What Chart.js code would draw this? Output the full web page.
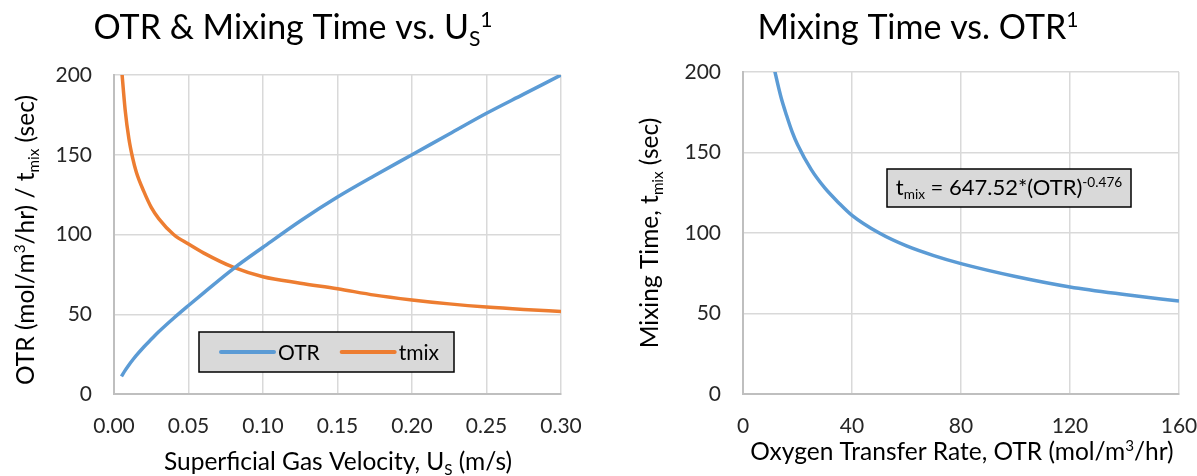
<!DOCTYPE html>
<html>
<head>
<meta charset="utf-8">
<script src="https://cdn.jsdelivr.net/npm/chart.js@4.4.1/dist/chart.umd.min.js"></script>
<style>
body{margin:0;background:#fff;width:1197px;height:476px;overflow:hidden;position:relative}
.box{position:absolute;top:0;height:476px}
#left{left:0;width:600px}
#right{left:600px;width:597px}
</style>
</head>
<body>
<div class="box" id="left"><canvas id="c1"></canvas></div>
<div class="box" id="right"><canvas id="c2"></canvas></div>
<script>
/* DATA - left chart (vs. superficial gas velocity) */
const usVel = [0.005,0.0075,0.01,0.0125,0.015,0.02,0.025,0.03,0.04,0.05,0.06,0.08,0.1,0.125,0.15,0.175,0.2,0.225,0.25,0.275,0.3]
const otrVals = [11,14.8,18.2,21.3,24.2,29.5,34.3,39,47.5,55.5,63.3,78.5,92,108.5,123.5,137,150,163,176,188,200]
const tmixVals = [205,178,160,148,139,127,117,110,100,94,88.5,79.5,73.5,69.5,66,62,59,56.5,54.5,53,51.8]

/* DATA - right chart (mixing time vs. OTR) */
const otrX = [11,12,14,16,18,20,25,30,35,40,50,60,70,80,100,120,140,160]
const tmixY = [206,198,184,173,163,155,139.5,128,119,111,100,92,86,81,73,66.5,61.8,57.7]

const xTicks1 = [0,0.05,0.1,0.15,0.2,0.25,0.3]
const xTicks2 = [0,40,80,120,160]
const yTicks = [0,50,100,150,200]

const BLUE = '#5B9BD5', ORANGE = '#ED7D31'
const FONT = 'Lato'
const GRID = '#D9D9D9'

/* rich text: segments with sub / sup */
function drawRich(ctx, segs, x, y, size, rot){
  ctx.save()
  ctx.translate(x, y)
  if(rot) ctx.rotate(rot)
  ctx.fillStyle = '#000'
  ctx.textBaseline = 'alphabetic'
  ctx.textAlign = 'left'
  let parts = segs.map(s=>{
    let fs = s.sub||s.sup ? size*0.62 : size
    ctx.font = fs+'px '+FONT
    return {t:s.t, fs, w:ctx.measureText(s.t).width, dy: s.sub ? size*0.2 : s.sup ? -size*0.36 : 0}
  })
  let total = parts.reduce((a,p)=>a+p.w,0)
  let cx = -total/2
  parts.forEach(p=>{
    ctx.font = p.fs+'px '+FONT
    ctx.fillText(p.t, cx, size*0.36 + p.dy)
    cx += p.w
  })
  ctx.restore()
}

const richText = {
  id:'richText',
  afterDraw(chart, args, opts){
    const ctx = chart.ctx
    ;(opts.items||[]).forEach(it=>drawRich(ctx, it.segs, it.x, it.y, it.size, it.rot))
  }
}

/* legend drawn as a grey box inside the plot */
const boxLegend = {
  id:'boxLegend',
  afterDatasetsDraw(chart, args, opts){
    if(!opts.show) return
    const ctx = chart.ctx, a = chart.chartArea
    let x = a.left+opts.dx, y = a.top+opts.dy
    ctx.save()
    ctx.fillStyle = '#D9D9D9'
    ctx.fillRect(x, y, opts.w, opts.h)
    ctx.strokeStyle = '#000'
    ctx.lineWidth = 1.5
    ctx.strokeRect(x, y, opts.w, opts.h)
    ctx.font = '21px '+FONT
    ctx.textBaseline = 'middle'
    let cx = x+22, cy = y+opts.h/2
    chart.data.datasets.forEach(ds=>{
      ctx.strokeStyle = ds.borderColor
      ctx.lineWidth = 4
      ctx.lineCap = 'round'
      ctx.beginPath(); ctx.moveTo(cx, cy); ctx.lineTo(cx+53, cy); ctx.stroke()
      ctx.fillStyle = '#000'
      ctx.fillText(ds.label, cx+57, cy+1)
      cx += 57 + ctx.measureText(ds.label).width + 22
    })
    ctx.restore()
  }
}

/* equation box */
const eqBox = {
  id:'eqBox',
  afterDatasetsDraw(chart, args, opts){
    if(!opts.show) return
    const ctx = chart.ctx, a = chart.chartArea
    let x = a.left+opts.dx, y = a.top+opts.dy
    ctx.save()
    ctx.fillStyle = '#D9D9D9'
    ctx.fillRect(x, y, opts.w, opts.h)
    ctx.strokeStyle = '#000'
    ctx.lineWidth = 1.5
    ctx.strokeRect(x, y, opts.w, opts.h)
    ctx.restore()
    drawRich(ctx, opts.segs, x+opts.w/2, y+opts.h/2-1, 22)
  }
}

function axisOpts(min, max, step, ticks, fmt, fitSize, isX){
  return {
    type:'linear', min, max,
    afterBuildTicks: s=>{ s.ticks = ticks.map(v=>({value:v})) },
    afterFit: s=>{
      if(isX){ s.height = fitSize; s.paddingLeft = 0; s.paddingRight = 0 }
      else s.width = fitSize
    },
    ticks:{ stepSize:step, color:'#262626', font:{family:FONT,size:21}, padding: isX?20:22, callback:fmt, maxRotation:0, autoSkip:false },
    grid:{ color:GRID, lineWidth:1.5, drawTicks:false },
    border:{ color:'#BFBFBF', width:2 }
  }
}

/* LEFT CHART */
new Chart(document.getElementById('c1'),{
  type:'line',
  data:{datasets:[
    {label:'OTR', data:usVel.map((u,i)=>({x:u,y:otrVals[i]})), borderColor:BLUE, borderWidth:3.5, pointRadius:0, cubicInterpolationMode:'monotone'},
    {label:'tmix', data:usVel.map((u,i)=>({x:u,y:tmixVals[i]})), borderColor:ORANGE, borderWidth:3.5, pointRadius:0, cubicInterpolationMode:'monotone'}
  ]},
  options:{
    responsive:true, maintainAspectRatio:false, animation:false,
    layout:{padding:{top:75,right:39,left:0,bottom:0}},
    scales:{
      x: axisOpts(0,0.3,0.05,xTicks1,v=>v.toFixed(2),82,true),
      y: axisOpts(0,200,50,yTicks,v=>v,114,false)
    },
    plugins:{
      legend:{display:false}, tooltip:{enabled:false},
      boxLegend:{show:true, dx:85, dy:257, w:255, h:40},
      richText:{items:[
        {segs:[{t:'OTR & Mixing Time vs. U'},{t:'S',sub:true},{t:'1',sup:true}], x:293, y:27, size:34},
        {segs:[{t:'OTR (mol/m'},{t:'3',sup:true},{t:'/hr) / t'},{t:'mix',sub:true},{t:' (sec)'}], x:25, y:240, size:24.5, rot:-Math.PI/2},
        {segs:[{t:'Superficial Gas Velocity, U'},{t:'S',sub:true},{t:' (m/s)'}], x:338, y:461, size:24.5}
      ]}
    }
  },
  plugins:[boxLegend, richText]
})

/* RIGHT CHART */
new Chart(document.getElementById('c2'),{
  type:'line',
  data:{datasets:[
    {label:'tmix', data:otrX.map((o,i)=>({x:o,y:tmixY[i]})), borderColor:BLUE, borderWidth:3.5, pointRadius:0, cubicInterpolationMode:'monotone'}
  ]},
  options:{
    responsive:true, maintainAspectRatio:false, animation:false,
    layout:{padding:{top:72,right:18,left:0,bottom:0}},
    scales:{
      x: axisOpts(0,160,40,xTicks2,v=>v,82,true),
      y: axisOpts(0,200,50,yTicks,v=>v,143,false)
    },
    plugins:{
      legend:{display:false}, tooltip:{enabled:false},
      eqBox:{show:true, dx:144, dy:97, w:244, h:38,
        segs:[{t:'t'},{t:'mix',sub:true},{t:' = 647.52*(OTR)'},{t:'-0.476',sup:true}]},
      richText:{items:[
        {segs:[{t:'Mixing Time vs. OTR'},{t:'1',sup:true}], x:318, y:27, size:34},
        {segs:[{t:'Mixing Time, t'},{t:'mix',sub:true},{t:' (sec)'}], x:49, y:233, size:24.5, rot:-Math.PI/2},
        {segs:[{t:'Oxygen Transfer Rate, OTR (mol/m'},{t:'3',sup:true},{t:'/hr)'}], x:362, y:451, size:24.5}
      ]}
    }
  },
  plugins:[eqBox, richText]
})
</script>
</body>
</html>
